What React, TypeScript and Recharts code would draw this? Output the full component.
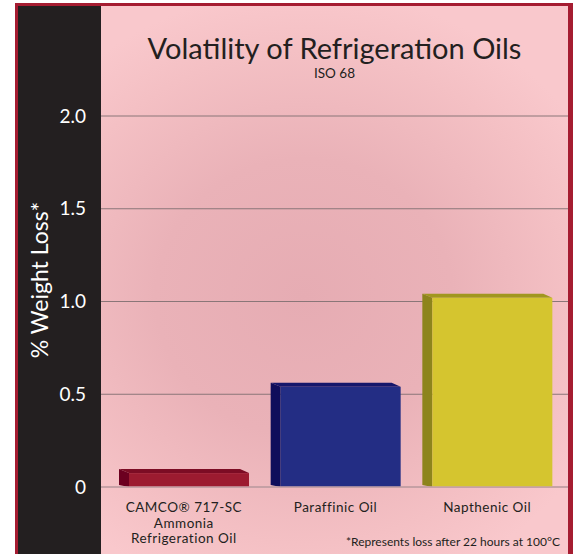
import React from 'react';
import { BarChart, Bar, XAxis, YAxis, CartesianGrid } from 'recharts';

// values
const categories = ['CAMCO® 717-SC|Ammonia|Refrigeration Oil', 'Paraffinic Oil', 'Napthenic Oil'];
const weightLoss = [0.075, 0.54, 1.02];
const yTicks = [0, 0.5, 1, 1.5, 2];

const BAR_COLORS = [
  { front: '#9c1b30', side: '#6c0020', top: '#7c0c24' },
  { front: '#232d84', side: '#0f0e5b', top: '#16176b' },
  { front: '#d5c52f', side: '#8d841c', top: '#a1971f' },
];

const FONT = 'Lato, "Open Sans", sans-serif';

const data = categories.map((name, i) => ({ name, value: weightLoss[i] }));

const Bar3D = (props: any) => {
  const { x, y, width, height, index } = props;
  const c = BAR_COLORS[index % BAR_COLORS.length];
  const d = 10;
  const e = 4;
  const fx = x + d;
  return (
    <g>
      <polygon
        points={`${x},${y - e} ${x + width - d + 1},${y - e} ${x + width},${y} ${fx},${y}`}
        fill={c.top}
      />
      <polygon
        points={`${x},${y - e} ${fx},${y} ${fx},${y + height} ${x},${y + height - 2}`}
        fill={c.side}
      />
      <rect x={fx} y={y} width={width - d} height={height} fill={c.front} />
    </g>
  );
};

const CategoryTick = (props: any) => {
  const { x, y, payload } = props;
  const lines = String(payload.value).split('|');
  return (
    <text
      x={x}
      y={y}
      textAnchor="middle"
      fill="#231f20"
      fontFamily={FONT}
      fontSize={13.5}
      letterSpacing={0.5}
    >
      {lines.map((l, i) => (
        <tspan key={i} x={x} dy={i === 0 ? 17 : 15.5}>
          {l}
        </tspan>
      ))}
    </text>
  );
};

export default function App() {
  return (
    <div style={{ position: 'absolute', left: 0, top: 0, width: 578, height: 554, overflow: 'hidden' }}>
      {/* frame + backgrounds */}
      <div style={{ position: 'absolute', left: 15, top: 3, width: 558, height: 560, background: '#a51c31' }} />
      <div
        style={{
          position: 'absolute',
          left: 18,
          top: 6,
          width: 550,
          height: 560,
          background: 'radial-gradient(ellipse 60% 55% at 52% 52%, #e6acb3 0%, #eab2b8 45%, #f4c0c4 80%, #f9c8cc 100%)',
        }}
      />
      <div style={{ position: 'absolute', left: 18, top: 6, width: 83, height: 560, background: '#231f20' }} />

      <div
        style={{
          position: 'absolute',
          left: 101,
          width: 467,
          top: 32,
          textAlign: 'center',
          fontFamily: FONT,
          fontSize: 29,
          color: '#231f20',
          lineHeight: '32px',
        }}
      >
        Volatility of Refrigeration Oils
      </div>
      <div
        style={{
          position: 'absolute',
          left: 101,
          width: 467,
          top: 65,
          textAlign: 'center',
          fontFamily: FONT,
          fontSize: 13.5,
          color: '#231f20',
          lineHeight: '16px',
        }}
      >
        ISO 68
      </div>
      <div
        style={{
          position: 'absolute',
          left: 39 - 100,
          top: 280 - 15,
          width: 200,
          height: 30,
          lineHeight: '30px',
          textAlign: 'center',
          transform: 'rotate(-90deg)',
          fontFamily: FONT,
          fontSize: 23,
          color: '#ffffff',
        }}
      >
        % Weight Loss*
      </div>
      <div
        style={{
          position: 'absolute',
          right: 18,
          top: 534,
          fontFamily: FONT,
          fontSize: 12,
          color: '#231f20',
          lineHeight: '16px',
        }}
      >
        *Represents loss after 22 hours at 100°C
      </div>

      <div style={{ position: 'absolute', left: 0, top: 0 }}>
        <BarChart width={578} height={554} data={data} margin={{ top: 116, right: 10, bottom: 0, left: 18 }}>
          <CartesianGrid horizontal vertical={false} stroke="#8a7678" strokeWidth={1} />
          <XAxis
            dataKey="name"
            height={67}
            padding={{ left: 7, right: 5 }}
            tickLine={false}
            axisLine={{ stroke: '#c9a3a8', strokeWidth: 1.5 }}
            tick={<CategoryTick />}
            interval={0}
          />
          <YAxis
            width={83}
            domain={[0, 2]}
            ticks={yTicks}
            tickLine={false}
            axisLine={false}
            tickMargin={9}
            tickFormatter={(v: number) => (v === 0 ? '0' : v.toFixed(1))}
            tick={{ fill: '#ffffff', fontSize: 19, fontFamily: FONT }}
          />
          <Bar dataKey="value" barSize={130} shape={<Bar3D />} isAnimationActive={false} />
        </BarChart>
      </div>
    </div>
  );
}
